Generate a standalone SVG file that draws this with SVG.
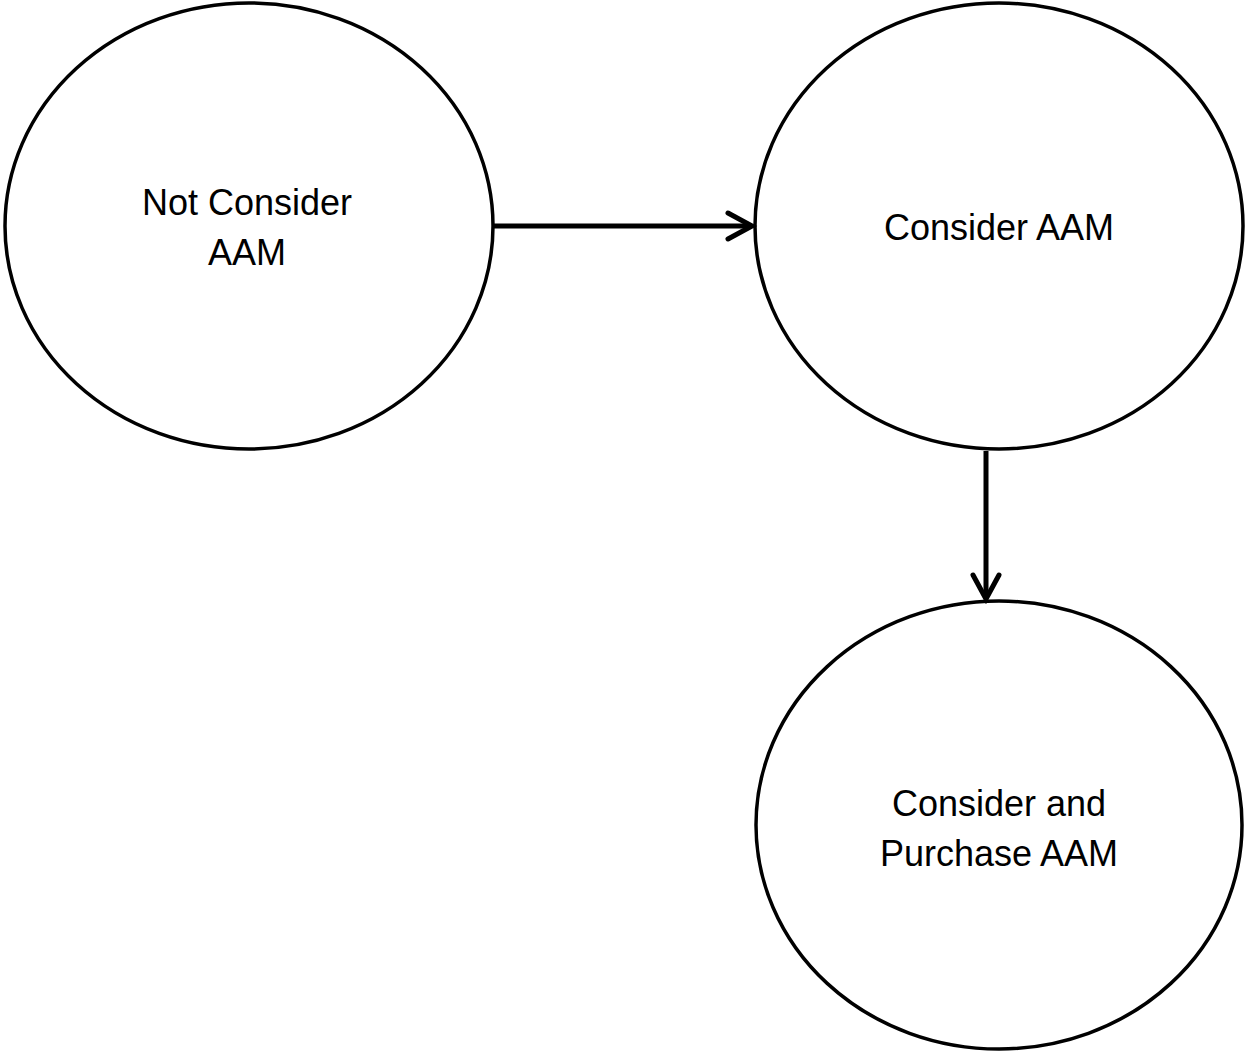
<svg xmlns="http://www.w3.org/2000/svg" width="1245" height="1051" viewBox="0 0 1245 1051">
<style>
.node{fill:#fff;stroke:#000;stroke-width:3.5}
.lbl{font-family:"Liberation Sans",Arial,sans-serif;font-size:36px;fill:#000;text-anchor:middle}
.conn{stroke:#000;stroke-width:5;fill:none}
.head{stroke:#000;stroke-width:5;fill:none;stroke-linecap:round;stroke-linejoin:miter}
</style>
<rect width="1245" height="1051" fill="#fff"/>
<g id="node-not-consider">
<ellipse class="node" cx="249" cy="226" rx="244" ry="223"/>
<text class="lbl" x="247" y="215">Not Consider</text>
<text class="lbl" x="247" y="265">AAM</text>
</g>
<g id="node-consider">
<ellipse class="node" cx="999" cy="226" rx="244" ry="223"/>
<text class="lbl" x="999" y="240">Consider AAM</text>
</g>
<g id="node-consider-purchase">
<ellipse class="node" cx="999" cy="825" rx="243" ry="224"/>
<text class="lbl" x="999" y="816">Consider and</text>
<text class="lbl" x="999" y="866">Purchase AAM</text>
</g>
<g id="connectors">
<line class="conn" x1="494" y1="226" x2="750" y2="226"/>
<polyline class="head" points="728,213 752,226 728,239"/>
<line class="conn" x1="986" y1="451" x2="986" y2="597"/>
<polyline class="head" points="973,575 986,599 999,575"/>
</g>
</svg>
